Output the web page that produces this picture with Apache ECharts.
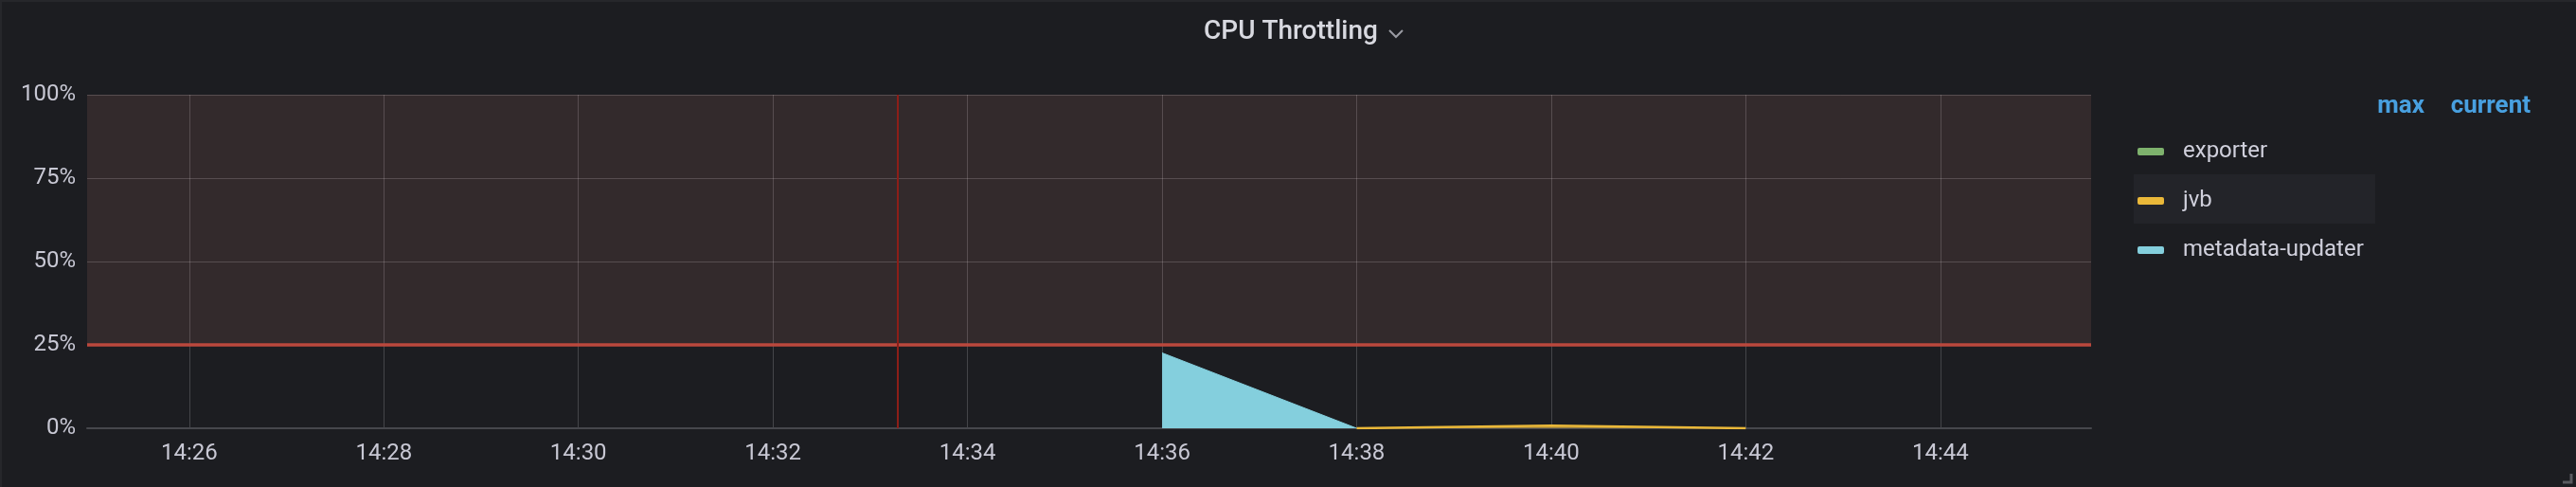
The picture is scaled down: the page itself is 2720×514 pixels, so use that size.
<!DOCTYPE html>
<html><head><meta charset="utf-8">
<script src="https://cdn.jsdelivr.net/npm/echarts@6/dist/echarts.min.js"></script>
<style>html,body{margin:0;padding:0;background:#1c1d21;}#c{width:2720px;height:514px;}</style>
</head><body><div id="c"></div>
<script>
const DAY = '2021-03-15 ';
const seriesNames = ['exporter', 'jvb', 'metadata-updater'];
const seriesColors = ['#7EB26D', '#EAB839', '#84CFDD'];
const exporterTimes = [];
const exporterValues = [];
const jvbTimes = ['14:38', '14:40', '14:42'];
const jvbValues = [0, 0.8, 0];
const metadataTimes = ['14:36', '14:38'];
const metadataValues = [22.6, 0];
const xRange = ['14:24:57', '14:45:33'];
const yTickValues = [0, 25, 50, 75, 100];
const thresholdValue = 25;
const annotationTime = '14:33:17';
const legendHeaders = ['max', 'current'];
const titleText = 'CPU Throttling';

function pairs(times, values) {
  return times.map((t, i) => [DAY + t, values[i]]);
}

const chart = echarts.init(document.getElementById('c'));
const labelColor = '#c8c8d4';
const gridColor = 'rgba(255,255,255,0.18)';

chart.setOption({
  backgroundColor: '#1c1d21',
  animation: false,
  grid: { left: 92, right: 512, top: 100, bottom: 62 },
  xAxis: {
    type: 'time',
    min: DAY + xRange[0],
    max: DAY + xRange[1],
    splitNumber: 9,
    axisLine: { show: true, lineStyle: { color: '#46474c', width: 2 } },
    axisTick: { show: false },
    axisLabel: {
      formatter: '{HH}:{mm}',
      color: labelColor, fontSize: 24, fontFamily: 'Roboto', margin: 15,
      showMinLabel: false, showMaxLabel: false
    },
    splitLine: { show: true, showMinLine: false, showMaxLine: false, lineStyle: { color: gridColor, width: 1 } }
  },
  yAxis: {
    type: 'value',
    min: yTickValues[0],
    max: yTickValues[yTickValues.length - 1],
    interval: yTickValues[1] - yTickValues[0],
    axisLine: { show: false },
    axisTick: { show: false },
    axisLabel: { formatter: '{value}%', color: labelColor, fontSize: 24, fontFamily: 'Roboto', margin: 12 },
    splitLine: { lineStyle: { color: gridColor, width: 1 } }
  },
  legend: {
    data: seriesNames,
    orient: 'vertical',
    left: 2257, top: 145,
    padding: 0,
    itemWidth: 28, itemHeight: 8, itemGap: 22,
    icon: 'roundRect',
    selectedMode: false,
    textStyle: { color: '#d0d0dc', fontSize: 24, fontFamily: 'Roboto', lineHeight: 30, padding: [0, 0, 0, 15] }
  },
  graphic: [
    { type: 'rect', shape: { x: 0, y: 0, width: 2720, height: 2 }, style: { fill: '#26272b' }, silent: true },
    { type: 'rect', shape: { x: 0, y: 0, width: 2, height: 514 }, style: { fill: '#26272b' }, silent: true },
    { type: 'rect', z: -10, shape: { x: 2253, y: 184, width: 255, height: 52 }, style: { fill: '#232429' }, silent: true },
    { type: 'text', x: 1271, y: 34, style: { text: titleText, font: '500 28px Roboto', fill: '#d8d9e0', textVerticalAlign: 'middle' } },
    { type: 'polyline', shape: { points: [[1467, 32], [1474, 39], [1481, 32]] }, style: { stroke: '#9a9ba3', lineWidth: 2, fill: null } },
    { type: 'text', x: 2560, y: 112, style: { text: legendHeaders[0], font: 'bold 26px Roboto', fill: '#48a0e0', textAlign: 'right', textVerticalAlign: 'middle' } },
    { type: 'text', x: 2672, y: 112, style: { text: legendHeaders[1], font: 'bold 26px Roboto', fill: '#48a0e0', textAlign: 'right', textVerticalAlign: 'middle' } },
    { type: 'polyline', shape: { points: [[2715, 500], [2715, 509], [2706, 509]] }, style: { stroke: '#5a5b60', lineWidth: 3, fill: null } }
  ],
  series: [
    {
      name: 'threshold', type: 'line', data: [], silent: true,
      markArea: {
        silent: true,
        itemStyle: { color: 'rgba(255,160,145,0.1)' },
        data: [[{ yAxis: thresholdValue }, { yAxis: yTickValues[yTickValues.length - 1] }]]
      },
      markLine: {
        silent: true, symbol: 'none',
        label: { show: false },
        data: [
          { yAxis: thresholdValue, lineStyle: { color: '#bb483d', width: 3.5, type: 'solid' } },
          { xAxis: DAY + annotationTime, lineStyle: { color: '#8c1e18', width: 2, type: 'solid' } }
        ]
      }
    },
    {
      name: seriesNames[0], type: 'line', color: seriesColors[0],
      data: pairs(exporterTimes, exporterValues), showSymbol: false,
      lineStyle: { width: 2 }, areaStyle: { opacity: 0.1 }
    },
    {
      name: seriesNames[1], type: 'line', color: seriesColors[1],
      data: pairs(jvbTimes, jvbValues), showSymbol: false,
      lineStyle: { width: 2.5 }, areaStyle: { opacity: 0.5 }
    },
    {
      name: seriesNames[2], type: 'line', color: seriesColors[2],
      data: pairs(metadataTimes, metadataValues), showSymbol: false,
      lineStyle: { width: 1 }, areaStyle: { opacity: 1 }
    }
  ]
});
</script></body></html>
